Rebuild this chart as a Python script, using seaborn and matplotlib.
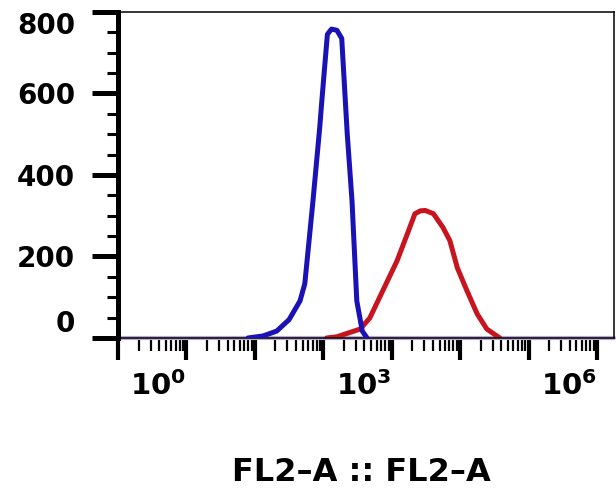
import numpy as np
import pandas as pd
import seaborn as sns
import matplotlib
matplotlib.use("Agg")
import matplotlib.pyplot as plt
from matplotlib.ticker import FixedLocator, LogLocator, NullFormatter

# Histogram traces (x as log10 of FL2-A, y as counts)
blue_log = [0.90, 1.12, 1.32, 1.50, 1.66, 1.73, 1.85, 1.95, 1.98, 2.06, 2.12, 2.20, 2.27, 2.35, 2.42, 2.49, 2.57, 2.64]
blue_count = [0, 5, 17, 45, 91, 133, 337, 520, 584, 745, 758, 755, 735, 502, 337, 91, 17, 0]

red_log = [2.05, 2.20, 2.54, 2.68, 2.87, 3.08, 3.23, 3.34, 3.42, 3.49, 3.61, 3.75, 3.85, 3.96, 4.10, 4.25, 4.39, 4.58]
red_count = [0, 3, 22, 49, 116, 190, 256, 305, 312, 313, 305, 271, 239, 172, 116, 59, 22, 0]

x_decades = [-1, 0, 1, 2, 3, 4, 5, 6]
x_labelled = [0, 3, 6]
y_ticks = [0, 200, 400, 600, 800]

blue_df = pd.DataFrame({"FL2-A": np.power(10.0, blue_log), "count": blue_count})
red_df = pd.DataFrame({"FL2-A": np.power(10.0, red_log), "count": red_count})

sns.set_style("ticks")
plt.rcParams["font.family"] = ["DejaVu Sans"]
plt.rcParams["font.weight"] = "bold"
plt.rcParams["mathtext.fontset"] = "dejavusans"
plt.rcParams["mathtext.default"] = "bf"

fig = plt.figure(figsize=(6.16, 4.95), dpi=100)
ax = fig.add_axes([0.1916, 0.3172, 0.8052, 0.6586])

# pale baseline where both traces sit at zero
ax.axhline(0, color="#b9a9d2", lw=3, zorder=1, clip_on=False)

sns.lineplot(data=blue_df, x="FL2-A", y="count", color="#1a12b4", lw=3.6, ax=ax, zorder=3)
sns.lineplot(data=red_df, x="FL2-A", y="count", color="#c8141e", lw=3.6, ax=ax, zorder=2)

ax.set_xscale("log")
ax.set_xlim(10 ** -1, 10 ** 6.25)
ax.set_ylim(0, 800)

ax.xaxis.set_major_locator(FixedLocator([10.0 ** k for k in x_decades]))
ax.set_xticklabels([f"$10^{{{k}}}$" if k in x_labelled else "" for k in x_decades],
                   ha="right")
ax.xaxis.set_minor_locator(LogLocator(base=10, subs=np.arange(2, 10), numticks=20))
ax.xaxis.set_minor_formatter(NullFormatter())

ax.set_yticks(y_ticks)
ax.set_yticklabels([str(v) for v in y_ticks])
ax.yaxis.set_minor_locator(FixedLocator(np.arange(0, 801, 50)))

ax.tick_params(axis="x", which="major", length=16, width=3, pad=8, labelsize=21, colors="black")
ax.tick_params(axis="x", which="minor", length=9, width=1.6, colors="black")
ax.tick_params(axis="y", which="major", length=19, width=3.6, pad=12, labelsize=20, colors="black")
ax.tick_params(axis="y", which="minor", length=8, width=2.2, colors="black")

# FlowJo keeps the end labels inside the axis range
ylabels = ax.get_yticklabels()
ylabels[0].set_verticalalignment("bottom")
ylabels[-1].set_verticalalignment("top")

for side in ["top", "right", "bottom"]:
    ax.spines[side].set_linewidth(1.1)
    ax.spines[side].set_color("black")
ax.spines["left"].set_linewidth(3.6)
ax.spines["left"].set_color("black")

ax.set_ylabel("")
ax.set_xlabel("FL2\u2013A :: FL2\u2013A", fontsize=23, fontweight="bold", va="center", color="black")
ax.xaxis.set_label_coords(0.49, -0.414)

fig.savefig("out.png", dpi=100)
